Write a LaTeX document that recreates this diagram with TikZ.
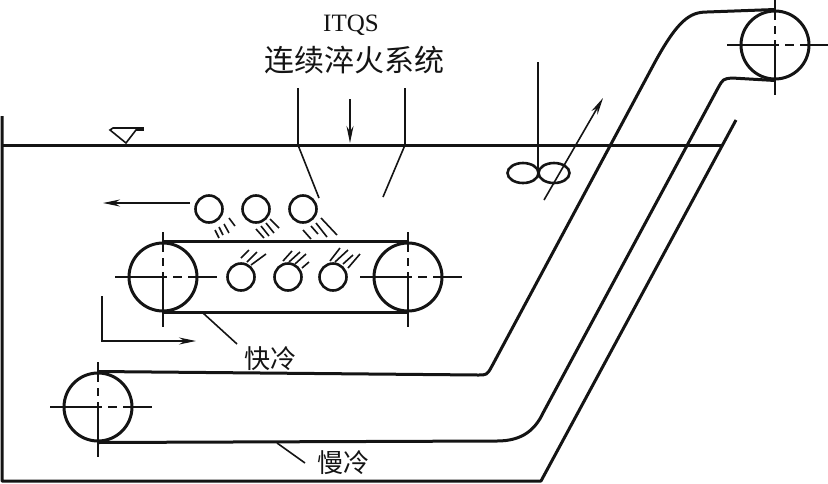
\documentclass[tikz,border=0pt]{standalone}
\usepackage{fontspec}
\setmainfont{Liberation Serif}
\newfontfamily\cjk{Noto Sans CJK SC}
\usepackage{tikz}
\usetikzlibrary{arrows.meta,calc,shapes.geometric}
\definecolor{inkline}{HTML}{141414}
\begin{document}
\begin{tikzpicture}[
  x=1pt,y=-1pt,
  belt/.style={draw=inkline,line width=3pt,line join=round},
  thin/.style={draw=inkline,line width=1.6pt},
  arr/.style={-{Stealth[length=17pt,width=7pt]},thin},
  roller/.style={circle,draw=inkline,line width=3pt,minimum size=68pt,inner sep=0pt},
  ball/.style={circle,draw=inkline,line width=2.6pt,minimum size=27pt,inner sep=0pt},
  blade/.style={ellipse,draw=inkline,line width=2.6pt,minimum width=31pt,minimum height=20pt,inner sep=0pt},
  axis/.style={thin,dash pattern=on 52pt off 6pt on 9pt off 6pt on 40pt},
  label/.style={text=inkline,inner sep=0pt}
]
\useasboundingbox (0,0) rectangle (828,483);
% tank and water
\draw[belt] (2,116) -- (2,481) -- (541,481) -- (736,120);
\draw[belt] (2,145) -- (722,145);
\draw[thin,fill=white] (113,128) -- (143,128) -- (143,130) -- (136,130) -- (126,143) -- (110,130) -- cycle;
% rollers
\node[roller] (rq) at (163,277) {};
\node[roller] (rp) at (408,277) {};
\node[roller] (rs) at (98,407) {};
\node[roller] (rt) at (775,45) {};
% belts
\draw[belt] (rq.north) -- (rp.north);
\draw[belt] (rq.south) -- (rp.south);
\draw[belt] (rs.north) -- (478,375) .. controls (487,375) .. (492,366) -- (655,62) .. controls (678,20) and (690,12) .. (707,12) -- (rt.north);
\draw[belt] (rs.south) -- (497,441) .. controls (522,441) and (535,430) .. (543,413) -- (718,88) .. controls (723,79) .. (732,78) -- (rt.south);
% centre lines
\foreach \r in {rq,rp,rs,rt}{
  \draw[axis] ($(\r.center)+(-48,0)$) -- ($(\r.center)+(54,0)$);
  \draw[axis,dash pattern=on 20pt off 6pt on 8pt off 6pt on 60pt] ($(\r.center)+(0,-45)$) -- ($(\r.center)+(0,50)$);
}
% balls
\foreach \x/\n in {209/a,256/b,303/c}{\node[ball] (o\n) at (\x,209) {};}
\foreach \x/\n in {241/d,288/e,333/f}{\node[ball] (o\n) at (\x,277) {};}
% spray
\foreach \a/\b/\c/\d in {215/230/219/238,219/227/223/235,224/224/229/233,229/218/235/226,
  256/229/264/238,261/226/269/236,266/223/274/233,270/219/279/228,
  303/230/311/239,311/226/318/234,316/223/327/237,321/218/337/235,
  241/258/249/250,247/262/257/252,251/265/266/254,
  283/261/292/251,289/262/300/252,295/264/306/254,302/268/309/262,
  330/261/340/248,335/262/348/250,343/264/353/255,348/268/360/254}{
  \draw[thin] (\a,\b) -- (\c,\d);
}
% stirrer
\node[blade] (pl) at (523,173) {};
\node[blade] (pr) at (554,173) {};
\coordinate (st) at (538,62);
\draw[thin] (st) -- (538,170);
\coordinate (fa) at (544,200);
\coordinate (fb) at (603,98);
\draw[arr] (fa) -- (fb);
% flow arrows
\draw[arr] (190,203) -- (103,203);
\draw[arr] (350,99) -- (350,143);
\draw[arr] (102,296) -- (102,341) -- (196,341);
% labels
\node[label,font=\fontsize{25}{25}\selectfont] (itqs) at (351,25) {ITQS};
\node[label,font=\cjk\fontsize{30}{30}\selectfont] (sys) at (354,60) {连续淬火系统};
\node[label,font=\cjk\fontsize{26}{26}\selectfont] (fast) at (270,359) {快冷};
\node[label,font=\cjk\fontsize{26}{26}\selectfont] (slow) at (343,463) {慢冷};
\draw[thin] (298,88) -- (298,145) -- (319,198);
\draw[thin] (405,88) -- (405,145) -- (383,197);
\draw[thin] (203,313) -- (237,344);
\draw[thin] (277,443) -- (305,463);
\end{tikzpicture}
\end{document}
